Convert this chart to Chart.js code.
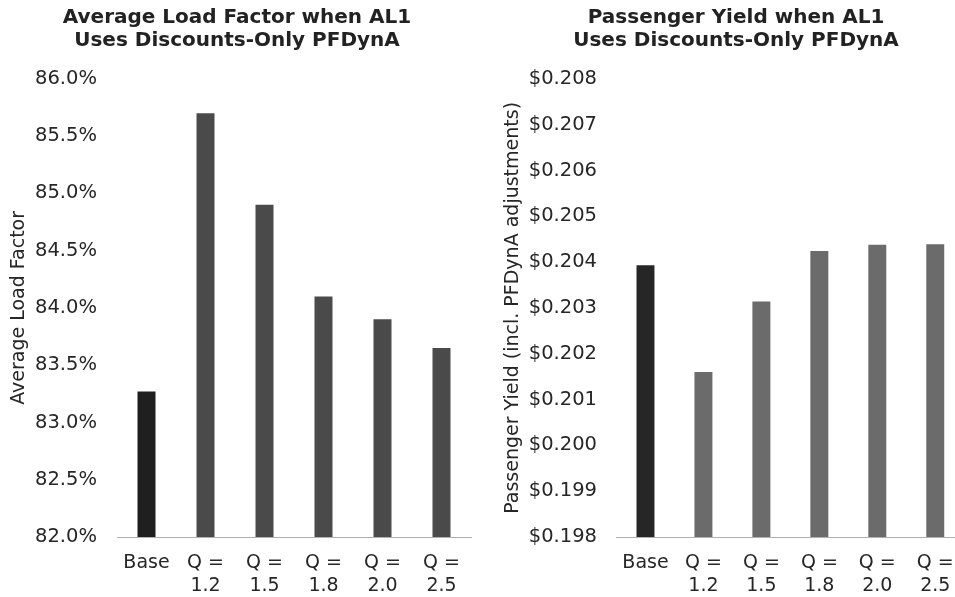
<!DOCTYPE html>
<html>
<head>
<meta charset="utf-8">
<script src="https://cdn.jsdelivr.net/npm/chart.js@4/dist/chart.umd.min.js"></script>
<style>
  html, body { margin: 0; padding: 0; background: #fff; overflow: hidden; width: 955px; height: 597px; }
  .panel { position: absolute; top: 0; }
  #lfWrap { left: 0; width: 478px; height: 597px; }
  #yieldWrap { left: 478px; width: 490px; height: 597px; }
</style>
</head>
<body>
<div class="panel" id="lfWrap"><canvas id="lfChart" width="478" height="597"></canvas></div>
<div class="panel" id="yieldWrap"><canvas id="yieldChart" width="490" height="597"></canvas></div>
<script>
// Scenarios: baseline plus PFDynA discount settings Q
const categories = ['Base', ['Q =', '1.2'], ['Q =', '1.5'], ['Q =', '1.8'], ['Q =', '2.0'], ['Q =', '2.5']];

// Average load factor (%) per scenario
const loadFactor = [83.27, 85.70, 84.90, 84.10, 83.90, 83.65];
// Passenger yield ($ per RPM, incl. PFDynA adjustments) per scenario
const passengerYield = [0.20393, 0.20160, 0.20314, 0.20424, 0.20438, 0.20439];

// Axis tick values
const loadFactorTicks = [82.0, 82.5, 83.0, 83.5, 84.0, 84.5, 85.0, 85.5, 86.0];
const yieldTicks = [0.198, 0.199, 0.200, 0.201, 0.202, 0.203, 0.204, 0.205, 0.206, 0.207, 0.208];

const FONT = "'DejaVu Sans', Verdana, sans-serif";
const TEXT = '#262626';

function barColors(baseColor, otherColor, n) {
  return Array.from({ length: n }, (_, i) => (i === 0 ? baseColor : otherColor));
}

function buildChart(canvasId, opts) {
  return new Chart(document.getElementById(canvasId), {
    type: 'bar',
    data: {
      labels: categories,
      datasets: [{
        data: opts.values,
        backgroundColor: barColors(opts.baseColor, opts.otherColor, opts.values.length),
        borderWidth: 0,
        barPercentage: opts.barPct,
        categoryPercentage: 1.0
      }]
    },
    options: {
      responsive: false,
      animation: false,
      layout: { padding: { left: opts.padLeft, right: opts.padRight, top: 0, bottom: 0 } },
      plugins: {
        legend: { display: false },
        tooltip: { enabled: false },
        title: {
          display: true,
          text: opts.title,
          color: '#222',
          font: { family: FONT, size: 20, weight: 'bold', lineHeight: 1.17 },
          padding: { top: 6, bottom: 26 }
        }
      },
      scales: {
        x: {
          grid: { display: false, drawTicks: false },
          border: { display: true, color: '#b0b0b0', width: 1, dash: [1, 1] },
          ticks: {
            color: TEXT,
            font: { family: FONT, size: 19, lineHeight: 1.24 },
            padding: 14,
            maxRotation: 0,
            autoSkip: false
          },
          afterFit: s => { s.height = 60; }
        },
        y: {
          min: opts.tickValues[0],
          max: opts.tickValues[opts.tickValues.length - 1],
          grid: { display: false, drawTicks: false },
          border: { display: false },
          afterBuildTicks: s => { s.ticks = opts.tickValues.map(v => ({ value: v })); },
          ticks: {
            color: TEXT,
            font: { family: FONT, size: 19.5 },
            padding: opts.tickPad,
            callback: opts.format
          },
          title: {
            display: true,
            text: opts.yTitle,
            color: TEXT,
            font: { family: FONT, size: 19 },
            padding: { top: opts.yTitleShift, bottom: 4 }
          },
          afterFit: s => { s.width = opts.yAxisWidth; }
        }
      }
    }
  });
}

buildChart('lfChart', {
  values: loadFactor,
  tickValues: loadFactorTicks,
  title: ['Average Load Factor when AL1', 'Uses Discounts-Only PFDynA'],
  yTitle: 'Average Load Factor',
  format: v => Number(v).toFixed(1) + '%',
  baseColor: '#1f1f1f',
  otherColor: '#4a4a4a',
  barPct: 0.305,
  padLeft: 3,
  padRight: 7,
  yAxisWidth: 114,
  tickPad: 20,
  yTitleShift: 5
});

buildChart('yieldChart', {
  values: passengerYield,
  tickValues: yieldTicks,
  title: ['Passenger Yield when AL1', 'Uses Discounts-Only PFDynA'],
  yTitle: 'Passenger Yield (incl. PFDynA adjustments)',
  format: v => '$' + Number(v).toFixed(3),
  baseColor: '#262626',
  otherColor: '#6b6b6b',
  barPct: 0.31,
  padLeft: 29.5,
  padRight: 3.5,
  yAxisWidth: 109,
  tickPad: 19.5,
  yTitleShift: -6
});
</script>
</body>
</html>
